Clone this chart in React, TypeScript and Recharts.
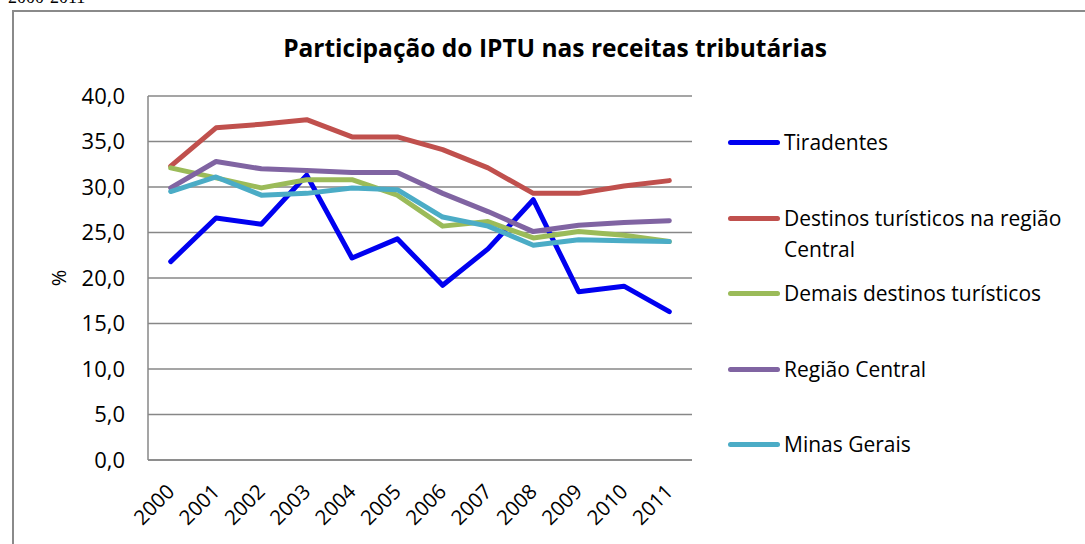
import React from "react";
import {
  LineChart,
  Line,
  XAxis,
  YAxis,
  CartesianGrid,
} from "recharts";

const years = ["2000", "2001", "2002", "2003", "2004", "2005", "2006", "2007", "2008", "2009", "2010", "2011"];
const tiradentes = [21.8, 26.6, 25.9, 31.3, 22.2, 24.3, 19.2, 23.2, 28.6, 18.5, 19.1, 16.3];
const destinosCentral = [32.3, 36.5, 36.9, 37.4, 35.5, 35.5, 34.1, 32.1, 29.3, 29.3, 30.1, 30.7];
const demaisDestinos = [32.1, 31.0, 29.9, 30.8, 30.8, 29.1, 25.7, 26.2, 24.4, 25.1, 24.7, 24.0];
const regiaoCentral = [29.9, 32.8, 32.0, 31.8, 31.6, 31.6, 29.3, 27.3, 25.1, 25.8, 26.1, 26.3];
const minasGerais = [29.5, 31.1, 29.1, 29.3, 29.9, 29.7, 26.7, 25.7, 23.6, 24.2, 24.1, 24.0];
const yTicks = [0, 5, 10, 15, 20, 25, 30, 35, 40];

const series = [
  { key: "tiradentes", name: "Tiradentes", values: tiradentes, color: "#0000F0" },
  { key: "destinos", name: "Destinos turísticos na região Central", values: destinosCentral, color: "#C0504D" },
  { key: "demais", name: "Demais destinos turísticos", values: demaisDestinos, color: "#9BBB59" },
  { key: "regiao", name: "Região Central", values: regiaoCentral, color: "#8064A2" },
  { key: "minas", name: "Minas Gerais", values: minasGerais, color: "#4BACC6" },
];

const data = years.map((year, i) => {
  const row: Record<string, any> = { year };
  series.forEach((s) => {
    row[s.key] = s.values[i];
  });
  return row;
});

const FONT = "'Open Sans', sans-serif";
const GRID = "#878787";

const fmt = (v: number) => v.toFixed(1).replace(".", ",");

const YearTick = (props: any) => {
  const { x, y, payload } = props;
  return (
    <g transform={`translate(${x + 5},${y + 25}) rotate(-45)`}>
      <text textAnchor="end" fontSize={20.5} fontFamily={FONT} fill="#000">
        {payload.value}
      </text>
    </g>
  );
};

// legend drawn beside the plot, same order as the series
const SideLegend = () => (
  <div
    style={{
      position: "absolute",
      left: 728,
      top: 127,
      width: 355,
      fontFamily: FONT,
    }}
  >
    {series.map((s, i) => (
      <div
        key={s.key}
        style={{
          position: "absolute",
          left: 0,
          top: i * 75.5,
          display: "flex",
          alignItems: "flex-start",
        }}
      >
        <div
          style={{
            width: 52,
            height: 5,
            borderRadius: 3,
            background: s.color,
            marginTop: 13,
            flex: "none",
          }}
        />
        <div
          style={{
            marginLeft: 4,
            width: 296,
            fontSize: 21,
            lineHeight: "31px",
            color: "#000",
          }}
        >
          {s.name}
        </div>
      </div>
    ))}
  </div>
);

export default function App() {
  return (
    <div
      style={{
        position: "absolute",
        left: 0,
        top: 0,
        width: 1085,
        height: 544,
        overflow: "hidden",
        background: "#fff",
      }}
    >
      <div
        style={{
          position: "absolute",
          left: 8,
          top: -12,
          fontFamily: "'Liberation Serif', serif",
          fontSize: 18,
          lineHeight: "18px",
        }}
      >
        2000-2011
      </div>
      <div
        style={{
          position: "absolute",
          left: 12,
          top: 10,
          width: 1120,
          height: 600,
          border: "2px solid #8a8a8a",
        }}
      />
      <div
        style={{
          position: "absolute",
          left: 250,
          width: 610,
          top: 33,
          textAlign: "center",
          fontFamily: FONT,
          fontWeight: 700,
          fontSize: 24.5,
          lineHeight: "30px",
          whiteSpace: "nowrap",
          color: "#000",
        }}
      >
        Participação do IPTU nas receitas tributárias
      </div>
      <div style={{ position: "absolute", left: 0, top: 0 }}>
        <LineChart
          width={1085}
          height={544}
          data={data}
          margin={{ top: 96, right: 393, bottom: 24, left: 68 }}
        >
          <CartesianGrid vertical={false} stroke={GRID} strokeWidth={1.5} />
          <XAxis
            dataKey="year"
            height={60}
            padding={{ left: 22.7, right: 22.7 }}
            axisLine={{ stroke: GRID, strokeWidth: 1.5 }}
            tickLine={false}
            tick={<YearTick />}
            interval={0}
          />
          <YAxis
            width={80}
            domain={[0, 40]}
            ticks={yTicks}
            tickFormatter={fmt}
            axisLine={{ stroke: GRID, strokeWidth: 1.5 }}
            tickLine={false}
            tickSize={6}
            tickMargin={17}
            tick={{ fontSize: 22, fontFamily: FONT, fill: "#000" }}
            label={{
              content: (p: any) => {
                const vb = p.viewBox || {};
                const cx = vb.x - 10;
                const cy = vb.y + vb.height / 2;
                return (
                  <text
                    x={cx}
                    y={cy}
                    transform={`rotate(-90 ${cx} ${cy})`}
                    textAnchor="middle"
                    dominantBaseline="central"
                    fontSize={20}
                    fontFamily={FONT}
                    fill="#000"
                  >
                    %
                  </text>
                );
              },
            }}
          />
          {series.map((s) => (
            <Line
              key={s.key}
              type="linear"
              dataKey={s.key}
              name={s.name}
              stroke={s.color}
              strokeWidth={5}
              dot={false}
              activeDot={false}
              strokeLinejoin="round"
              strokeLinecap="round"
              isAnimationActive={false}
            />
          ))}
        </LineChart>
      </div>
      <SideLegend />
    </div>
  );
}
